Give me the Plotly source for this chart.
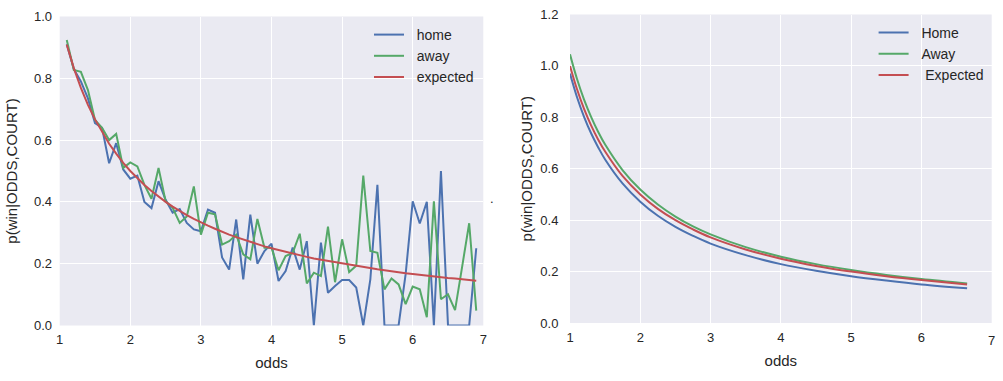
import plotly.graph_objects as go

# left panel: empirical win rates by odds bucket
odds = [1.1, 1.2, 1.3, 1.4, 1.5, 1.6, 1.7, 1.8, 1.9, 2.0,
        2.1, 2.2, 2.3, 2.4, 2.5, 2.6, 2.7, 2.8, 2.9, 3.0,
        3.1, 3.2, 3.3, 3.4, 3.5, 3.6, 3.7, 3.8, 3.9, 4.0,
        4.1, 4.2, 4.3, 4.4, 4.5, 4.6, 4.7, 4.8, 4.9, 5.0,
        5.1, 5.2, 5.3, 5.4, 5.5, 5.6, 5.7, 5.8, 5.9, 6.0,
        6.1, 6.2, 6.3, 6.4, 6.5, 6.6, 6.7, 6.8, 6.9]
home = [0.91, 0.83, 0.79, 0.735, 0.655, 0.64, 0.525, 0.59, 0.505, 0.475,
        0.485, 0.40, 0.38, 0.467, 0.407, 0.365, 0.377, 0.332, 0.311, 0.305,
        0.375, 0.365, 0.22, 0.181, 0.343, 0.149, 0.359, 0.20, 0.241, 0.265,
        0.144, 0.176, 0.252, 0.181, 0.273, 0.0, 0.268, 0.106, 0.128, 0.147,
        0.147, 0.123, 0.0, 0.149, 0.455, 0.0, 0.0, 0.0, 0.166, 0.402,
        0.33, 0.40, 0.0, 0.50, 0.0, 0.0, 0.0, 0.0, 0.25]
away = [0.924, 0.827, 0.821, 0.762, 0.665, 0.64, 0.60, 0.62, 0.51, 0.528,
        0.515, 0.455, 0.41, 0.51, 0.402, 0.381, 0.332, 0.353, 0.45, 0.294,
        0.365, 0.36, 0.262, 0.273, 0.294, 0.23, 0.214, 0.345, 0.252, 0.252,
        0.179, 0.225, 0.235, 0.297, 0.136, 0.171, 0.16, 0.32, 0.14, 0.279,
        0.173, 0.193, 0.485, 0.241, 0.235, 0.117, 0.152, 0.133, 0.069, 0.126,
        0.117, 0.027, 0.402, 0.085, 0.101, 0.05, 0.19, 0.331, 0.048]
expected = [0.909, 0.833, 0.769, 0.714, 0.667, 0.625, 0.588, 0.556, 0.526, 0.5,
            0.476, 0.455, 0.435, 0.417, 0.4, 0.385, 0.370, 0.357, 0.345, 0.333,
            0.323, 0.313, 0.303, 0.294, 0.286, 0.278, 0.270, 0.263, 0.256, 0.25,
            0.244, 0.238, 0.233, 0.227, 0.222, 0.217, 0.213, 0.208, 0.204, 0.2,
            0.196, 0.192, 0.189, 0.185, 0.182, 0.179, 0.175, 0.172, 0.169, 0.167,
            0.164, 0.161, 0.159, 0.156, 0.154, 0.152, 0.149, 0.147, 0.145]

# right panel: fitted curves
fit_odds = [1.0, 1.1, 1.2, 1.3, 1.4, 1.5, 1.75, 2.0, 2.25, 2.5,
            2.75, 3.0, 3.5, 4.0, 4.5, 5.0, 5.5, 6.0, 6.65]
fit_home = [0.970, 0.878, 0.802, 0.738, 0.684, 0.636, 0.542, 0.472, 0.417, 0.374,
            0.339, 0.309, 0.264, 0.229, 0.203, 0.182, 0.165, 0.150, 0.135]
fit_away = [1.045, 0.949, 0.869, 0.802, 0.744, 0.694, 0.594, 0.519, 0.461, 0.414,
            0.376, 0.345, 0.295, 0.258, 0.229, 0.206, 0.187, 0.171, 0.154]
fit_expected = [1.0, 0.909, 0.833, 0.769, 0.714, 0.667, 0.571, 0.5, 0.444, 0.4,
                0.364, 0.333, 0.286, 0.25, 0.222, 0.2, 0.182, 0.167, 0.150]

xticks = [1, 2, 3, 4, 5, 6, 7]
left_yticks = [0.0, 0.2, 0.4, 0.6, 0.8, 1.0]
right_yticks = [0.0, 0.2, 0.4, 0.6, 0.8, 1.0, 1.2]

BLUE = '#4C72B0'
GREEN = '#55A868'
RED = '#C44E52'
FONT = 'Liberation Sans, Arial, sans-serif'
SP = '\u00a0\u00a0'  # push legend text a bit further from the line sample

W, H = 1003, 381


def xdom(a, b):
    return [a / W, b / W]


def ydom(top, bottom):
    return [(H - bottom) / H, (H - top) / H]


fig = go.Figure()

fig.add_trace(go.Scatter(x=odds, y=home, name=SP + 'home', mode='lines',
                         line=dict(color=BLUE, width=2), xaxis='x', yaxis='y', legend='legend'))
fig.add_trace(go.Scatter(x=odds, y=away, name=SP + 'away', mode='lines',
                         line=dict(color=GREEN, width=2), xaxis='x', yaxis='y', legend='legend'))
fig.add_trace(go.Scatter(x=odds, y=expected, name=SP + 'expected', mode='lines',
                         line=dict(color=RED, width=2), xaxis='x', yaxis='y', legend='legend'))

fig.add_trace(go.Scatter(x=fit_odds, y=fit_home, name=SP + 'Home', mode='lines',
                         line=dict(color=BLUE, width=2, shape='spline'),
                         xaxis='x2', yaxis='y2', legend='legend2'))
fig.add_trace(go.Scatter(x=fit_odds, y=fit_away, name=SP + 'Away', mode='lines',
                         line=dict(color=GREEN, width=2, shape='spline'),
                         xaxis='x2', yaxis='y2', legend='legend2'))
fig.add_trace(go.Scatter(x=fit_odds, y=fit_expected, name=SP + '\u00a0Expected', mode='lines',
                         line=dict(color=RED, width=2, shape='spline'),
                         xaxis='x2', yaxis='y2', legend='legend2'))

axis_common = dict(showgrid=True, gridcolor='white', gridwidth=1.2, zeroline=False,
                   showline=False, ticks='outside', tickcolor='rgba(0,0,0,0)',
                   automargin=False, ticklabeloverflow='allow',
                   tickfont=dict(size=13, color='#262626'),
                   title_font=dict(size=15, color='#262626'))

# plotly drops the right panel's last tick label at the page edge, so it is written as a note
# hung just under the axis like the other tick labels
edge_label = dict(text=str(xticks[-1]), x=xticks[-1], xref='x2', y=0, yref='y2',
                  yanchor='top', yshift=-8, showarrow=False,
                  font=dict(size=13, color='#262626'))

fig.update_layout(
    width=W, height=H,
    margin=dict(l=0, r=0, t=0, b=0),
    paper_bgcolor='white',
    plot_bgcolor='#EAEAF2',
    font=dict(family=FONT, color='#262626'),
    xaxis=dict(domain=xdom(59.7, 483.3), range=[1, 7], tickvals=xticks, ticklen=2,
               title=dict(text='odds', standoff=11), **axis_common),
    yaxis=dict(domain=ydom(16.5, 325.5), range=[0, 1], tickvals=left_yticks,
               tickformat='.1f', ticklen=4,
               title=dict(text='p(win|ODDS,COURT)', standoff=12), **axis_common),
    xaxis2=dict(domain=xdom(570, 991.7), range=[1, 7], tickvals=xticks[:-1], anchor='y2',
                ticklen=2, title=dict(text='odds', standoff=11), **axis_common),
    yaxis2=dict(domain=ydom(14.5, 323), range=[0, 1.2], tickvals=right_yticks,
                tickformat='.1f', anchor='x2', ticklen=8,
                title=dict(text='p(win|ODDS,COURT)', standoff=4), **axis_common),
    legend=dict(x=369 / W, y=1 - 19 / H, xanchor='left', yanchor='top',
                bgcolor='rgba(0,0,0,0)', font=dict(size=14), itemwidth=30),
    legend2=dict(x=873.6 / W, y=1 - 17 / H, xanchor='left', yanchor='top',
                 bgcolor='rgba(0,0,0,0)', font=dict(size=14), itemwidth=30),
    annotations=[dict(text='.', x=492 / W, y=1 - 198 / H, xref='paper', yref='paper',
                      showarrow=False, font=dict(size=13)),
                 edge_label],
)

# drop the default body margin so the figure sits at the window's corner
fig.write_html("out.html", config={'displayModeBar': False},
               post_script="document.body.style.margin='0';")
